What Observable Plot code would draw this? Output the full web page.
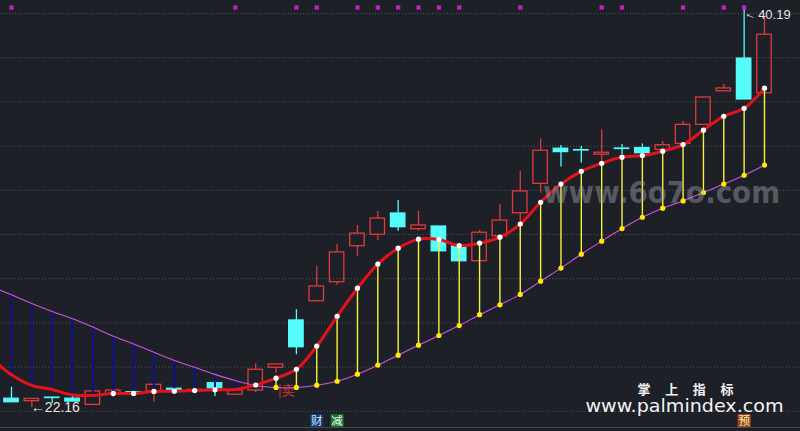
<!DOCTYPE html>
<html><head><meta charset="utf-8">
<script src="https://cdn.jsdelivr.net/npm/d3@7"></script>
<script src="https://cdn.jsdelivr.net/npm/@observablehq/plot@0.6"></script>
<style>html,body{margin:0;padding:0;background:#1e2028;overflow:hidden}</style>
</head><body><div id="chart"></div>
<script>
// ---- data ----
const candleIdx = d3.range(38);
const opens  = [22.57,22.46,22.62,22.57,22.29,22.76,22.86,22.90,23.02,22.90,23.27,22.75,22.94,23.97,26.11,26.98,27.84,29.47,29.99,30.95,30.24,30.36,29.46,28.79,29.92,30.96,32.29,33.88,33.82,33.61,33.89,33.91,33.83,34.10,34.96,36.48,37.96,36.39];
const closes = [22.41,22.56,22.60,22.44,22.90,22.94,22.82,23.20,22.94,22.97,23.04,22.94,23.88,24.12,24.90,27.65,29.19,30.04,30.72,30.33,30.41,29.24,28.79,30.08,30.63,31.95,33.79,33.73,33.80,33.70,33.87,33.68,34.04,34.96,36.20,36.61,36.11,39.04];
const highs  = [23.09,22.56,22.62,22.79,22.90,22.94,22.86,23.20,23.02,22.97,23.27,22.94,24.15,24.12,26.60,28.55,29.55,30.41,31.04,31.54,31.04,30.36,29.46,30.18,31.36,32.86,34.33,34.03,33.98,34.74,34.07,34.10,34.21,35.11,36.20,36.79,40.19,39.83];
const lows   = [22.41,22.16,22.35,22.44,22.29,22.63,22.82,22.41,22.94,22.90,22.67,22.75,22.84,23.72,24.56,26.98,27.71,29.02,29.73,30.15,30.15,29.24,28.79,28.79,29.92,30.48,31.87,33.05,33.23,33.32,33.62,33.68,33.83,34.10,34.96,36.48,36.11,36.39];

const lineIdx = d3.range(-1, 38);
const redLine    = [24.43,23.65,23.17,22.99,22.74,22.72,22.81,22.81,22.90,22.91,22.94,22.97,22.99,23.19,23.50,23.90,24.95,26.30,27.57,28.66,29.38,29.79,29.77,29.50,29.61,29.88,30.47,31.46,32.28,32.86,33.22,33.50,33.57,33.77,34.07,34.72,35.35,35.71,36.62];
const violetLine = [27.65,27.27,26.88,26.52,26.19,25.81,25.40,25.05,24.67,24.30,23.99,23.67,23.39,23.17,23.08,23.08,23.18,23.36,23.68,24.09,24.54,24.99,25.43,25.88,26.37,26.82,27.29,27.89,28.48,29.11,29.70,30.27,30.78,31.19,31.52,31.90,32.28,32.68,33.14];

const markedIdx = [5,6,7,8,9,10,12,13,14,15,16,17,18,19,20,21,22,23,24,25,26,27,28,29,30,31,32,33,34,35,36,37];
const signalIdx = [0,11,14,15,17,18,19,20,21,22,25,29,30,33,35,36];
const gridPrices = [22,24,26,28,30,32,34,36,38,40];

const badgeIdx = [15,16,36];
const badgeText = ["财","减","预"];
const badgeBg = ["#143a6a","#1b6b2c","#9c4712"];
const badgeFg = ["#cfe6ff","#e8ffe8","#ffe9c8"];

const lowLabelIdx = 1, highLabelIdx = 36, sellIdx = 13;

// ---- tables ----
const candles = candleIdx.map(i => ({i, o: opens[i], c: closes[i], h: highs[i], l: lows[i], up: closes[i] >= opens[i]}));
const lines = lineIdx.map((i, k) => ({i, red: redLine[k], vio: violetLine[k]}));
const conn = lines.filter(d => d.i >= 0);
const byI = new Map(lines.map(d => [d.i, d]));
const marked = markedIdx.map(i => byI.get(i));
const yellowDots = conn.filter(d => d.red > d.vio + 0.05);

const RED = "#e03a3a", CYAN = "#55fcfc", BG = "#1e2028";
const font = "'Liberation Sans', Arial, sans-serif";
const cjk = "'Noto Sans CJK SC', sans-serif";

const chart = Plot.plot({
  width: 800, height: 431, margin: 0,
  x: {type: "linear", domain: [-0.5405, 38.77], axis: null},
  y: {type: "linear", domain: [21.086, 40.588], axis: null},
  style: {background: BG, fontFamily: font},
  marks: [
    Plot.ruleY(gridPrices, {stroke: "#50555e", strokeDasharray: "1,2", strokeWidth: 1}),
    // wicks
    Plot.ruleX(candles, {x: "i", y1: "h", y2: d => Math.max(d.o, d.c), stroke: d => d.up ? RED : CYAN, strokeWidth: 1.3}),
    Plot.ruleX(candles, {x: "i", y1: "l", y2: d => Math.min(d.o, d.c), stroke: d => d.up ? RED : CYAN, strokeWidth: 1.3}),
    // bodies
    Plot.rect(candles, {x1: d => d.i - 0.355, x2: d => d.i + 0.355, y1: "o", y2: "c",
      fill: d => d.up ? "none" : CYAN, stroke: d => d.up ? RED : CYAN, strokeWidth: 1.3}),
    // connectors
    Plot.ruleX(conn, {x: "i", y1: "red", y2: "vio", stroke: d => d.vio > d.red ? "#10108c" : "#f4f43a",
      strokeWidth: d => d.vio > d.red ? 2 : 1.4}),
    Plot.line(lines, {x: "i", y: "vio", stroke: "#cf55e0", strokeWidth: 1.1, curve: "catmull-rom", clip: true}),
    Plot.line(lines, {x: "i", y: "red", stroke: "#e4121a", strokeWidth: 3, curve: "catmull-rom", clip: true}),
    Plot.dot(yellowDots, {x: "i", y: "vio", r: 2.6, fill: "#ffea00"}),
    Plot.dot(marked, {x: "i", y: "red", r: 2.6, fill: "#ffffff"}),
    // top signal squares
    Plot.dot(signalIdx, {x: d => d, frameAnchor: "top", dy: 7, symbol: "square", r: 2.4, fill: "#c81ec8"}),
    // labels
    Plot.text([lowLabelIdx], {x: d => d, y: d => lows[d], text: d => "←" + lows[d].toFixed(2), textAnchor: "start", dx: -1, dy: 0, fill: "#e6e6e6", fontSize: 14}),
    Plot.text([highLabelIdx], {x: d => d, y: d => highs[d], text: d => "←", rotate: 22, textAnchor: "start", dx: 1, dy: 3, fill: "#e6e6e6", fontSize: 12}),
    Plot.text([highLabelIdx], {x: d => d, y: d => highs[d], text: d => highs[d].toFixed(2), textAnchor: "start", dx: 14, dy: 6, fill: "#e6e6e6", fontSize: 13}),
    Plot.text([sellIdx], {x: d => d, y: d => lows[d], text: d => "|卖", textAnchor: "start", dx: 2, dy: 18, fill: "#d83030", fontSize: 13, fontFamily: cjk}),
    // bottom badges
    Plot.dot(badgeIdx, {x: d => d, frameAnchor: "bottom", dy: -11, symbol: "square", r: 7.4, fill: (d, k) => badgeBg[k]}),
    Plot.text(badgeIdx, {x: d => d, frameAnchor: "bottom", lineAnchor: "middle", dy: -10, text: (d, k) => badgeText[k], fill: (d, k) => badgeFg[k], fontSize: 11.5, fontFamily: cjk}),
    // watermarks
    Plot.text(["www.6o7o.com"], {frameAnchor: "top-left", textAnchor: "middle", lineAnchor: "middle", dx: 661, dy: 193, text: d => d, fill: "#a8abb0", fillOpacity: 0.42, fontSize: 30, fontWeight: "bold", fontFamily: "'DejaVu Sans', sans-serif"}),
    Plot.text(["掌 上 指 标"], {frameAnchor: "top-left", textAnchor: "middle", lineAnchor: "middle", dx: 685, dy: 389, text: d => d, fill: "#f2f2f2", fontSize: 13, fontWeight: "bold", fontFamily: cjk}),
    Plot.text(["www.palmindex.com"], {frameAnchor: "top-left", textAnchor: "middle", lineAnchor: "middle", dx: 684, dy: 406, text: d => d, fill: "#f4f4f4", fontSize: 18, fontFamily: "'DejaVu Sans', sans-serif"})
  ]
});

const svg = d3.select(chart);
svg.selectAll("text").filter(function(){ return this.textContent === "www.6o7o.com"; })
  .attr("textLength", 237).attr("lengthAdjust", "spacingAndGlyphs");
svg.selectAll("text").filter(function(){ return this.textContent === "www.palmindex.com"; })
  .attr("textLength", 198).attr("lengthAdjust", "spacingAndGlyphs");
svg.selectAll("text").filter(function(){ return this.textContent === "掌 上 指 标"; })
  .attr("textLength", 96).attr("lengthAdjust", "spacing");
svg.append("line").attr("x1", 0).attr("x2", 800).attr("y1", 427.5).attr("y2", 427.5)
  .attr("stroke", "#44474f").attr("stroke-width", 1);
document.getElementById("chart").appendChild(chart);
</script>
</body></html>
